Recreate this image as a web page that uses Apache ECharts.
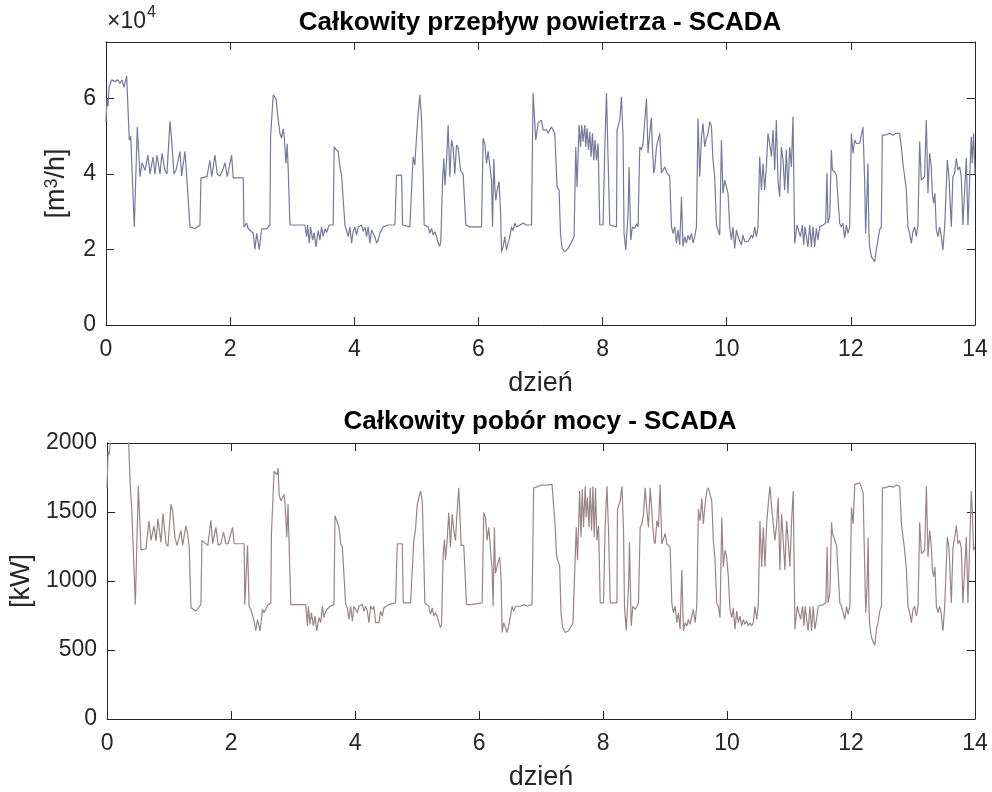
<!DOCTYPE html>
<html>
<head>
<meta charset="utf-8">
<script src="https://cdn.jsdelivr.net/npm/echarts@6/dist/echarts.min.js"></script>
<style>
    html, body { margin: 0; padding: 0; background: #fff; }
    #main { width: 992px; height: 792px; }
</style>
</head>
<body>
<div id="main"></div>
<script>
// czas w dniach (wspólny dla obu serii)
var dni = [
    0, 0.016, 0.032, 0.048, 0.092, 0.145, 0.193, 0.225, 0.258, 0.290, 0.333, 0.375, 0.398, 0.456, 0.504, 0.548, 0.580, 0.628, 0.676, 0.709, 0.757, 0.789, 0.821, 0.870, 0.902, 0.950, 0.982, 1.031, 1.058, 1.095, 1.127, 1.192, 1.219, 1.240, 1.272, 1.300, 1.325, 1.353,
    1.433, 1.514, 1.530, 1.626, 1.675, 1.702, 1.755, 1.792, 1.836, 1.879, 1.916, 1.953, 2.024, 2.050, 2.211, 2.222, 2.266, 2.291, 2.319, 2.372, 2.399, 2.427, 2.469, 2.507, 2.533, 2.588, 2.641,
    2.652, 2.694, 2.705, 2.738, 2.758, 2.775, 2.802, 2.829, 2.855, 2.871, 2.899, 2.919, 2.936, 2.963, 3.205, 3.232, 3.248, 3.274, 3.296, 3.329, 3.354, 3.382, 3.419, 3.446, 3.473, 3.499, 3.527, 3.554, 3.596, 3.660, 3.676, 3.704, 3.741, 3.768, 3.795, 3.821, 3.849,
    3.876, 3.902, 3.929, 3.957, 3.982, 4.010, 4.037, 4.063, 4.090, 4.118, 4.143, 4.171, 4.198, 4.224, 4.251, 4.279, 4.304, 4.332, 4.359, 4.385, 4.412, 4.440, 4.465, 4.493, 4.546, 4.654, 4.681, 4.762, 4.778, 4.895, 4.923, 4.948, 4.976, 5.003, 5.029, 5.056, 5.084, 5.110, 5.126, 5.190, 5.217, 5.245, 5.271, 5.298, 5.325, 5.351, 5.378, 5.395,
    5.422, 5.443, 5.459, 5.486, 5.512, 5.539, 5.567, 5.593, 5.620, 5.647, 5.673, 5.712, 5.754, 5.797, 5.862, 5.969, 5.995, 6.050, 6.076, 6.103, 6.130, 6.156, 6.184, 6.211, 6.227, 6.248, 6.264, 6.280, 6.301, 6.333, 6.356, 6.372, 6.398, 6.425, 6.452, 6.478, 6.506, 6.533, 6.559, 6.586, 6.614, 6.667, 6.720, 6.775, 6.855,
    6.881, 6.908, 6.924, 6.961, 6.989, 7.016, 7.042, 7.069, 7.097, 7.122, 7.150, 7.177, 7.203, 7.230, 7.246, 7.267, 7.300, 7.322, 7.348, 7.391, 7.444, 7.488, 7.515, 7.541, 7.568, 7.589, 7.622, 7.644, 7.665, 7.686, 7.713, 7.729, 7.750, 7.773, 7.794, 7.815, 7.837, 7.858, 7.879, 7.902, 7.928, 7.955, 8.008, 8.035, 8.063, 8.089, 8.116, 8.224,
    8.233, 8.277, 8.304, 8.330, 8.346, 8.374, 8.411, 8.427, 8.454, 8.481, 8.519, 8.546, 8.572, 8.599, 8.626, 8.652, 8.680, 8.707, 8.733, 8.760, 8.787, 8.803, 8.824, 8.841, 8.868, 8.894, 8.921, 8.948, 8.974, 9.002, 9.029, 9.055, 9.082, 9.110, 9.135, 9.163, 9.190, 9.216, 9.243, 9.271, 9.296, 9.324, 9.351, 9.377, 9.404, 9.432, 9.457, 9.485, 9.512,
    9.538, 9.565, 9.593, 9.618, 9.646, 9.673, 9.699, 9.726, 9.754, 9.779, 9.807, 9.834, 9.860, 9.887, 9.915, 9.940, 9.968, 9.995, 10.021, 10.048, 10.076, 10.101, 10.129, 10.156, 10.182, 10.209, 10.237, 10.262, 10.290, 10.317, 10.343, 10.370, 10.398, 10.423, 10.451, 10.478, 10.504, 10.531, 10.559, 10.585, 10.612, 10.639, 10.665, 10.692, 10.720, 10.746, 10.773, 10.800, 10.826, 10.853, 10.881, 10.907, 10.934, 10.961, 10.987, 11.014, 11.042, 11.068, 11.095,
    11.132, 11.164, 11.187, 11.219, 11.240, 11.261, 11.284, 11.309, 11.337, 11.364, 11.390, 11.417, 11.444, 11.470, 11.498, 11.551, 11.594, 11.615, 11.631, 11.659, 11.686, 11.702, 11.739, 11.767, 11.792, 11.820, 11.847, 11.873, 11.900, 11.928, 11.953, 11.981, 12.008, 12.034, 12.061, 12.089, 12.142, 12.169, 12.195, 12.222, 12.238, 12.259, 12.275, 12.291, 12.303, 12.330, 12.356, 12.383, 12.411, 12.436, 12.464, 12.491,
    12.507, 12.544, 12.572, 12.625, 12.678, 12.733, 12.786, 12.813, 12.839, 12.866, 12.894, 12.919, 12.947, 12.974, 13.000, 13.027, 13.055, 13.081, 13.108, 13.135, 13.161, 13.188, 13.216, 13.242, 13.269, 13.296, 13.312, 13.333, 13.354, 13.377, 13.403, 13.430, 13.457, 13.483, 13.511, 13.538, 13.554, 13.580, 13.618, 13.644, 13.671, 13.699, 13.725, 13.752, 13.779, 13.805, 13.833, 13.860, 13.886, 13.913, 13.940, 13.956, 13.977, 14.000
];

// całkowity przepływ powietrza [m3/h]
var przeplyw = [
    54000, 60000, 58000, 63000, 65000, 64500, 65000, 64000, 65000, 63000, 66000, 49000, 50000, 26000, 52500, 39300, 43000, 41000, 45000, 40000, 44500, 40000, 45000, 40000, 45500, 41000, 40000, 54000, 49000, 40000, 41000, 46000, 39500, 40000, 46000, 39500, 39000, 26000,
    25500, 26500, 39000, 39300, 43600, 39300, 45000, 40000, 39500, 41000, 43000, 39300, 45000, 39000, 39000, 26000, 27000, 25500, 26000, 24300, 20000, 24300, 20000, 25500, 26000, 25500, 26500,
    50000, 61000, 61000, 60000, 60500, 54300, 50800, 49500, 52000, 50000, 42800, 48000, 41000, 26500, 26500, 23400, 26500, 21700, 26000, 22500, 24500, 20700, 25000, 22500, 26000, 23500, 25500, 24500, 26500, 26500, 47200, 46500, 46000, 41900, 39700, 39700, 26500,
    25000, 23400, 26000, 21700, 24800, 26000, 23800, 26000, 25500, 26500, 24800, 26000, 23400, 26000, 21700, 25200, 25500, 23400, 21700, 22500, 24300, 24800, 26000, 26000, 26500, 26500, 39700, 39700, 26500, 26000, 26500, 44600, 42400, 49900, 56000, 61000, 54300, 40000, 26500, 26000, 24300, 25600, 23800, 24700, 23400, 21700, 20800, 22500,
    38400, 44200, 37000, 43300, 53000, 39300, 49000, 47000, 40000, 47700, 47000, 41000, 40000, 26500, 26000, 26000, 26500, 26000, 49500, 48000, 42800, 46000, 45500, 38400, 26000, 44000, 36600, 33000, 35700, 38000, 30000, 19400, 20700, 23400, 19900, 21700, 23400, 26000, 25000, 27000, 26000, 26500, 27000, 26500, 26500,
    61400, 53500, 49000, 53500, 53900, 54300, 51700, 51200, 51700, 50800, 50300, 52500, 52500, 50800, 44600, 36600, 35700, 24300, 20300, 19400, 20300, 21600, 22500, 23400, 47200, 36600, 53000, 47200, 53000, 48600, 53000, 47200, 52100, 46400, 51200, 44600, 50800, 43700, 49000, 43700, 48100, 26500, 26500, 46400, 61500, 43700, 26500, 26000,
    51700, 54300, 60500, 49900, 24300, 19900, 29600, 41900, 22500, 26000, 25600, 26800, 26000, 47200, 46400, 48100, 48600, 60000, 45500, 50800, 55000, 47200, 40200, 41500, 47200, 49000, 50800, 40200, 40200, 41900, 40600, 40200, 39300, 26000, 24300, 26000, 21700, 25200, 21200, 34000, 20800, 23400, 21700, 23800, 22500, 24300, 21700, 23400, 26000,
    54700, 39300, 49900, 53400, 47200, 49500, 50800, 53900, 52600, 43700, 39300, 26500, 26000, 23800, 49000, 34900, 38400, 38400, 34900, 26000, 22500, 26000, 20300, 25200, 23400, 23800, 21200, 23800, 22100, 22100, 22100, 22500, 23800, 23000, 26000, 23400, 26000, 44600, 35800, 42800, 35800, 41900, 50800, 48100, 44600, 51700, 41000, 54300, 38400, 34000, 47200, 43700, 35800, 46400, 34900, 47200, 41900, 55200, 21600,
    26500, 26000, 23400, 26500, 21200, 26000, 23400, 20700, 26500, 20700, 26000, 20700, 25600, 22500, 26000, 26500, 27000, 40200, 27000, 28700, 46400, 41100, 40600, 39700, 39300, 27000, 26000, 27000, 23000, 26500, 24300, 26000, 50800, 45500, 49000, 48100, 48100, 50300, 52500, 38400, 24300, 34000, 42800, 24300, 20700, 18100, 18100, 16800, 19900, 22500, 25200, 26000,
    50300, 50300, 49900, 50800, 50300, 50800, 50800, 47200, 42800, 39300, 35800, 26000, 24300, 21600, 24700, 26000, 23400, 26500, 48600, 38400, 38000, 39300, 54300, 34900, 45500, 41900, 34900, 32300, 34900, 25200, 23400, 26000, 23400, 19900, 26000, 26500, 43700, 39300, 26000, 39300, 40200, 44200, 41100, 41900, 39300, 26500, 26500, 44200, 26500, 26500, 49900, 42800, 50800, 40000
];

// całkowity pobór mocy [kW]
var moc = [
    1675, 1938, 1914, 1985, 2150, 2150, 2150, 2120, 2150, 2100, 2180, 1687, 1520, 829, 1690, 1223, 1223, 1235, 1437, 1294, 1400, 1290, 1450, 1280, 1490, 1270, 1250, 1556, 1508, 1318, 1258, 1366, 1258, 1246, 1401, 1342, 1246, 806,
    782, 829, 1294, 1258, 1440, 1270, 1389, 1260, 1270, 1354, 1270, 1270, 1389, 1270, 1270, 829, 1258, 817, 794, 710, 640, 720, 639, 794, 770, 822, 841,
    1350, 1795, 1783, 1771, 1818, 1628, 1580, 1604, 1628, 1556, 1318, 1556, 1270, 829, 829, 674, 817, 686, 770, 674, 746, 639, 734, 700, 817, 734, 782, 794, 817, 829, 1473, 1437, 1389, 1270, 1246, 1246, 829,
    805, 722, 817, 710, 817, 817, 770, 817, 817, 829, 782, 817, 782, 698, 817, 794, 817, 698, 686, 698, 782, 746, 805, 817, 829, 841, 1270, 1270, 841, 841, 841, 1294, 1378, 1556, 1604, 1652, 1580, 1151, 841, 817, 758, 805, 746, 770, 746, 698, 663, 686,
    1200, 1300, 1151, 1294, 1497, 1246, 1485, 1366, 1294, 1509, 1675, 1258, 1258, 829, 829, 836, 836, 841, 1497, 1461, 1294, 1389, 1401, 1080, 817, 1389, 1056, 1080, 1127, 1175, 1008, 627, 698, 686, 627, 674, 746, 817, 782, 817, 805, 817, 829, 817, 829,
    1675, 1687, 1680, 1687, 1690, 1695, 1695, 1695, 1695, 1697, 1700, 1700, 1700, 1389, 1199, 1151, 1115, 770, 663, 627, 639, 674, 698, 698, 1389, 1151, 1652, 1318, 1664, 1389, 1687, 1461, 1604, 1389, 1675, 1366, 1687, 1318, 1675, 1294, 1400, 841, 841, 1413, 1687, 1366, 841, 841,
    1521, 1580, 1687, 1389, 817, 639, 960, 1282, 674, 817, 794, 817, 841, 1389, 1413, 1485, 1675, 1509, 1389, 1675, 1509, 1389, 1294, 1270, 1437, 1389, 1700, 1270, 1270, 1342, 1270, 1270, 1246, 841, 770, 817, 698, 770, 651, 1080, 639, 698, 674, 722, 686, 746, 794, 698, 817,
    1521, 1437, 1599, 1413, 1556, 1652, 1675, 1628, 1580, 1294, 1151, 841, 817, 734, 1461, 1103, 1223, 1175, 1032, 794, 734, 805, 651, 782, 698, 746, 674, 722, 686, 710, 674, 698, 674, 698, 817, 722, 817, 1437, 1103, 1389, 1103, 1413, 1556, 1687, 1532, 1532, 1294, 1413, 1604, 1080, 1485, 1294, 1080, 1437, 1294, 1103, 1437, 1652, 651,
    817, 805, 722, 817, 674, 817, 722, 639, 817, 639, 817, 651, 722, 817, 817, 829, 841, 1246, 841, 913, 1425, 1342, 1294, 1258, 1246, 841, 817, 829, 722, 817, 758, 817, 1532, 1413, 1700, 1711, 1711, 1705, 1640, 1080, 770, 960, 1313, 770, 674, 591, 579, 532, 651, 698, 782, 817,
    1675, 1675, 1687, 1687, 1680, 1695, 1687, 1413, 1318, 1223, 1080, 817, 770, 698, 794, 817, 746, 817, 1425, 1199, 1187, 1223, 1687, 1175, 1366, 1246, 1080, 1032, 1103, 817, 770, 817, 758, 639, 817, 817, 1318, 1246, 841, 1234, 1246, 1401, 1270, 1294, 1234, 841, 841, 1318, 841, 841, 1652, 1509, 1223, 1250
];

// podziałki osi
var osDni = [0, 2, 4, 6, 8, 10, 12, 14];
var osPrzeplyw = [0, 20000, 40000, 60000];
var osMoc = [0, 500, 1000, 1500, 2000];

var chart = echarts.init(document.getElementById('main'), null, { renderer: 'canvas' });

var font = '"Liberation Sans", Arial, Helvetica, sans-serif';
var axisColor = '#262626';

function osX(grid, withLabel) {
    return {
        gridIndex: grid,
        type: 'value',
        min: osDni[0],
        max: osDni[osDni.length - 1],
        interval: 2,
        position: withLabel ? 'bottom' : 'top',
        axisLine: { show: true, onZero: false, lineStyle: { color: axisColor, width: 1 } },
        axisTick: { show: true, inside: true, length: 8, lineStyle: { color: axisColor } },
        axisLabel: { show: withLabel, color: axisColor, fontSize: 23, fontFamily: font, margin: 13 },
        splitLine: { show: false },
        name: withLabel ? 'dzień' : '',
        nameLocation: 'middle',
        nameGap: 45,
        nameTextStyle: { color: axisColor, fontSize: 27, fontFamily: font }
    };
}

function osY(grid, withLabel, ticks, step, name, fmt) {
    return {
        gridIndex: grid,
        type: 'value',
        min: 0,
        max: grid === 0 ? 75000 : 2000,
        interval: step,
        position: withLabel ? 'left' : 'right',
        axisLine: { show: true, onZero: false, lineStyle: { color: axisColor, width: 1 } },
        axisTick: { show: true, inside: true, length: 8, lineStyle: { color: axisColor } },
        axisLabel: {
            show: withLabel, color: axisColor, fontSize: 23, fontFamily: font, margin: 10,
            formatter: function (v) {
                return ticks.indexOf(v) >= 0 ? fmt(v) : '';
            }
        },
        splitLine: { show: false },
        name: withLabel ? name : '',
        nameLocation: 'middle',
        nameGap: 36,
        nameTextStyle: {
            color: axisColor, fontSize: 27, fontFamily: font,
            rich: { sup: { fontSize: 18, fontFamily: font, color: axisColor, verticalAlign: 'top' } }
        }
    };
}

var option = {
    animation: false,
    backgroundColor: '#fff',
    grid: [
        { left: 106, top: 42, width: 869, height: 283 },
        { left: 106, top: 443, width: 869, height: 277 }
    ],
    xAxis: [osX(0, true), osX(0, false), osX(1, true), osX(1, false)],
    yAxis: [
        osY(0, true, osPrzeplyw, 20000, '[m{sup|3}/h]', function (v) { return String(v / 10000); }),
        osY(0, false, osPrzeplyw, 20000, '', String),
        osY(1, true, osMoc, 500, '[kW]', String),
        osY(1, false, osMoc, 500, '', String)
    ],
    graphic: [
        {
            type: 'text', x: 540, y: 23,
            style: { text: 'Całkowity przepływ powietrza - SCADA', fill: '#000', font: 'bold 26px ' + font, align: 'center', verticalAlign: 'middle' }
        },
        {
            type: 'text', x: 540, y: 422,
            style: { text: 'Całkowity pobór mocy - SCADA', fill: '#000', font: 'bold 26px ' + font, align: 'center', verticalAlign: 'middle' }
        },
        {
            type: 'text', x: 107, y: 22,
            style: { text: '×10', fill: axisColor, font: '23px ' + font, align: 'left', verticalAlign: 'middle' }
        },
        {
            type: 'text', x: 147, y: 13,
            style: { text: '4', fill: axisColor, font: '16px ' + font, align: 'left', verticalAlign: 'middle' }
        }
    ],
    series: [
        {
            type: 'line', xAxisIndex: 0, yAxisIndex: 0,
            data: dni.map(function (d, i) { return [d, przeplyw[i]]; }),
            showSymbol: false, clip: true,
            lineStyle: { color: '#767a98', width: 1.2 }
        },
        {
            type: 'line', xAxisIndex: 2, yAxisIndex: 2,
            data: dni.map(function (d, i) { return [d, moc[i]]; }),
            showSymbol: false, clip: true,
            lineStyle: { color: '#9a8586', width: 1.2 }
        }
    ]
};

chart.setOption(option);
</script>
</body>
</html>
